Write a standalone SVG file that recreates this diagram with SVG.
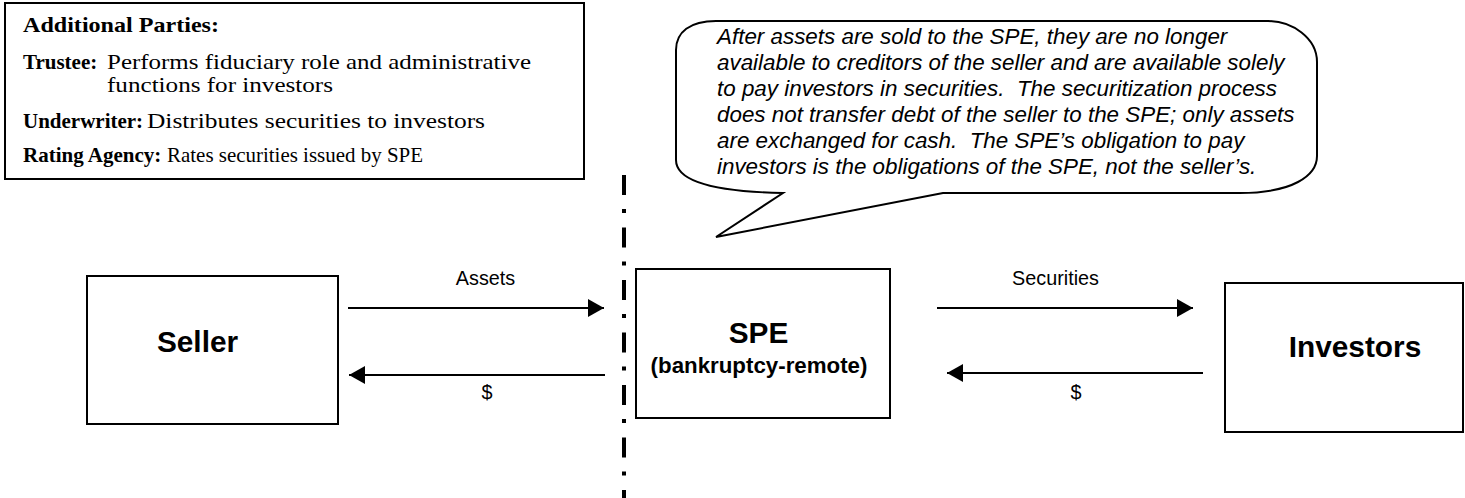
<svg xmlns="http://www.w3.org/2000/svg" width="1465" height="498" viewBox="0 0 1465 498">
<style>
.box{fill:#fff;stroke:#000;stroke-width:2}
.lbl{font-family:"Liberation Sans",Arial,sans-serif;font-weight:bold;font-size:29.8px;fill:#000;text-anchor:middle}
.sub{font-family:"Liberation Sans",Arial,sans-serif;font-weight:bold;font-size:22.3px;fill:#000;text-anchor:middle}
.alab{font-family:"Liberation Sans",Arial,sans-serif;font-size:19.8px;fill:#000;text-anchor:middle}
.ser{font-family:"Liberation Serif","Times New Roman",serif;font-size:21.5px;fill:#000}
.serb{font-family:"Liberation Serif","Times New Roman",serif;font-size:21px;font-weight:bold;fill:#000}
.call{font-family:"Liberation Sans",Arial,sans-serif;font-size:22.4px;font-style:italic;fill:#000}
.con{stroke:#000;stroke-width:2;fill:none}
</style>
<defs>
<marker id="ah" markerWidth="16" markerHeight="18" refX="16" refY="9" orient="auto" markerUnits="userSpaceOnUse">
<path d="M0,0 L16,9 L0,18 Z" fill="#000"/>
</marker>
</defs>
<rect width="1465" height="498" fill="#fff"/>

<g id="additional-parties">
<rect class="box" x="5" y="3" width="579" height="176"/>
<text class="serb" x="23" y="32" textLength="196" lengthAdjust="spacingAndGlyphs">Additional Parties:</text>
<text class="serb" x="23" y="69">Trustee:</text>
<text class="ser" x="107" y="69" textLength="424" lengthAdjust="spacingAndGlyphs">Performs fiduciary role and administrative</text>
<text class="ser" x="107" y="92" textLength="226" lengthAdjust="spacingAndGlyphs">functions for investors</text>
<text class="serb" x="23" y="128">Underwriter:</text>
<text class="ser" x="147" y="128" textLength="338" lengthAdjust="spacingAndGlyphs">Distributes securities to investors</text>
<text class="serb" x="23" y="162">Rating Agency:</text>
<text class="ser" x="167" y="162" textLength="256" lengthAdjust="spacingAndGlyphs">Rates securities issued by SPE</text>
</g>

<g id="callout">
<path class="box" d="M676,50 C676,32 690,21 716,21 L1268,21 C1292,21 1317,38 1317,62 L1317,156 C1317,176 1292,193 1240,193 L943,193 L716,237 L783,193 C730,192 676,185 676,160 Z"/>
<text class="call" x="717" y="44">After assets are sold to the SPE, they are no longer</text>
<text class="call" x="717" y="70">available to creditors of the seller and are available solely</text>
<text class="call" x="717" y="96">to pay investors in securities.&#160; The securitization process</text>
<text class="call" x="717" y="122">does not transfer debt of the seller to the SPE; only assets</text>
<text class="call" x="717" y="148">are exchanged for cash.&#160; The SPE’s obligation to pay</text>
<text class="call" x="717" y="174">investors is the obligations of the SPE, not the seller’s.</text>
</g>

<g id="boundary">
<line x1="624" y1="175" x2="624" y2="498" stroke="#000" stroke-width="4" stroke-dasharray="20 14 4 14.5"/>
</g>

<g id="seller">
<rect class="box" x="87" y="276" width="251" height="148"/>
<text class="lbl" x="197.5" y="352">Seller</text>
</g>

<g id="spe">
<rect class="box" x="636" y="269" width="254" height="149"/>
<text class="lbl" x="758.5" y="343">SPE</text>
<text class="sub" x="759" y="373">(bankruptcy-remote)</text>
</g>

<g id="investors">
<rect class="box" x="1225" y="283" width="238" height="149"/>
<text class="lbl" x="1355" y="357">Investors</text>
</g>

<g id="connectors">
<line class="con" x1="348" y1="308" x2="604" y2="308" marker-end="url(#ah)"/>
<line class="con" x1="605" y1="375" x2="349" y2="375" marker-end="url(#ah)"/>
<line class="con" x1="937" y1="308" x2="1193" y2="308" marker-end="url(#ah)"/>
<line class="con" x1="1203" y1="373" x2="947" y2="373" marker-end="url(#ah)"/>
<text class="alab" x="485.5" y="285">Assets</text>
<text class="alab" x="487" y="399">$</text>
<text class="alab" x="1055.5" y="285">Securities</text>
<text class="alab" x="1076" y="399">$</text>
</g>
</svg>
